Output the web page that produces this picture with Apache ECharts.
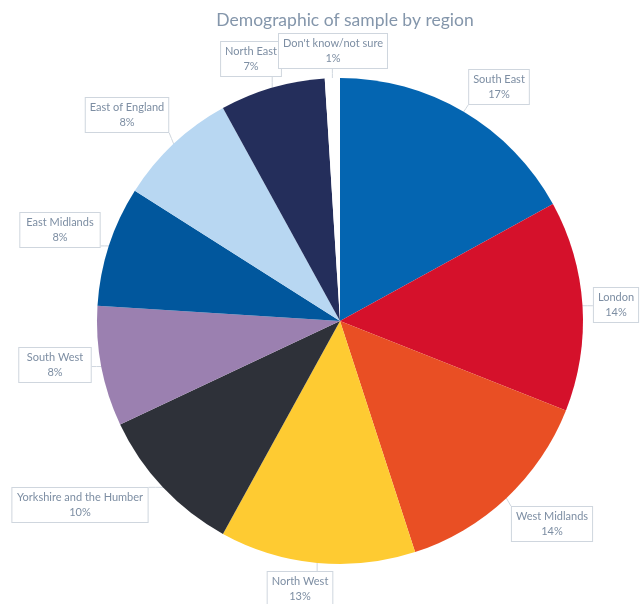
<!DOCTYPE html>
<html>
<head>
<meta charset="utf-8">
<script src="https://cdn.jsdelivr.net/npm/echarts@6/dist/echarts.min.js"></script>
<style>
  html, body { margin: 0; padding: 0; background: #ffffff; }
  #chart { width: 642px; height: 604px; }
</style>
</head>
<body>
<div id="chart"></div>
<script>
// Survey sample split by region (percent of respondents)
const regions = [
  'South East', 'London', 'West Midlands', 'North West',
  'Yorkshire and the Humber', 'South West', 'East Midlands',
  'East of England', 'North East', "Don't know/not sure"
];
const shares = [17, 14, 14, 13, 10, 8, 8, 8, 7, 1];
const sliceColors = [
  '#0465b1', '#d5112b', '#e94f24', '#fecb32', '#2e3139',
  '#9b80b0', '#01579d', '#b8d7f2', '#242e5b', '#ffffff'
];

// Callout box centres, in pixels, for each region label
const calloutCentres = [
  [499, 87], [616, 305], [552, 524], [300, 589], [80, 505],
  [55, 365], [60, 230], [127, 115], [251, 59], [333, 51]
];

const chart = echarts.init(document.getElementById('chart'), null, { renderer: 'canvas' });

const textColor = '#7d8ea3';
const fontFamily = 'Lato, "Open Sans", sans-serif';

chart.setOption({
  animation: false,
  title: {
    text: 'Demographic of sample by region',
    left: 340,
    textAlign: 'center',
    top: 6,
    textStyle: {
      color: '#8496ab',
      fontFamily: fontFamily,
      fontWeight: 'normal',
      fontSize: 17.5
    }
  },
  series: [{
    type: 'pie',
    // wide layout box so outside labels are never width-constrained
    left: 0,
    top: 0,
    width: 1000,
    height: 604,
    center: [340, 321],
    radius: [0, 243],
    startAngle: 90,
    clockwise: true,
    data: regions.map((name, i) => ({
      name: name,
      value: shares[i],
      itemStyle: { color: sliceColors[i] }
    })),
    itemStyle: { borderWidth: 0 },
    label: {
      show: true,
      position: 'outside',
      formatter: '{b}\n{c}%',
      color: textColor,
      fontFamily: fontFamily,
      fontSize: 11,
      lineHeight: 15,
      align: 'center',
      backgroundColor: '#ffffff',
      borderColor: '#cfd6de',
      borderWidth: 1,
      padding: [2, 4, 2, 4]
    },
    labelLine: {
      show: true,
      length: 10,
      length2: 10,
      lineStyle: { color: '#cfd6de', width: 1 }
    },
    emphasis: { disabled: true },
    labelLayout: function (params) {
      const c = calloutCentres[params.dataIndex];
      const w = params.labelRect.width;
      const h = params.labelRect.height;
      const x0 = c[0] - w / 2, y0 = c[1] - h / 2;
      const start = params.labelLinePoints ? params.labelLinePoints[0] : null;
      const out = {
        x: c[0],
        y: c[1],
        align: 'center',
        verticalAlign: 'middle'
      };
      if (start) {
        const ex = Math.min(Math.max(start[0], x0), x0 + w);
        const ey = Math.min(Math.max(start[1], y0), y0 + h);
        out.labelLinePoints = [start, [(start[0] + ex) / 2, (start[1] + ey) / 2], [ex, ey]];
      }
      return out;
    }
  }]
});
</script>
</body>
</html>
